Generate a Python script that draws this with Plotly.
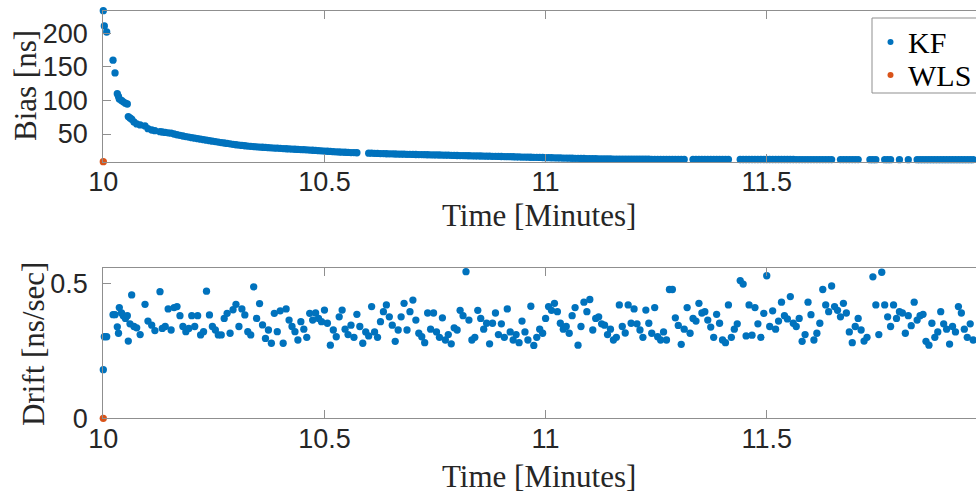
import numpy as np
import plotly.graph_objects as go

# ---------------- data ----------------
# early transient epochs (seconds after 10:00)
early_t_sec = [0.0, 0.14, 0.46, 1.32, 1.59, 1.9, 2.06, 2.17, 2.47, 2.71, 3.0, 3.26,
               3.39, 3.62, 3.85, 4.16, 4.53, 5.0, 5.66, 6.06, 6.57, 7.0, 7.69]
early_bias = [233.7, 211, 202, 160, 141, 110, 106, 102, 100, 98, 96, 94.7,
              76, 74, 72, 68, 65, 63.5, 62, 58, 56, 55, 53.5]
early_drift = [0.18, 0.302, 0.302, 0.384, 0.384, 0.339, 0.315, 0.41, 0.39, 0.38, 0.37, 0.38,
               0.286, 0.35, 0.457, 0.34, 0.335, 0.31, 0.422, 0.36, 0.345, 0.325, 0.469]

# steady part, sampled every 0.4 s from 8.0 s to 118.0 s
steady_t_sec = np.linspace(8.0, 118.0, 276)
steady_bias = [
    53.0, 52.4, 51.8, 51.2, 50.0, 48.9, 48.0, 47.0, 46.2, 45.5,
    44.6, 43.8, 43.0, 42.3, 41.5, 40.8, 40.0, 39.3, 38.7, 38.0,
    37.3, 36.6, 36.0, 35.3, 34.6, 34.0, 33.5, 33.0, 32.5, 32.0,
    31.6, 31.2, 30.9, 30.6, 30.3, 30.0, 29.7, 29.4, 29.1, 28.9,
    28.6, 28.3, 28.0, 27.8, 27.5, 27.3, 27.0, 26.8, 26.6, 26.4,
    26.1, 25.8, 25.5, 25.2, 24.9, 24.6, 24.3, 24.0, 23.7, 23.4,
    23.2, 23.0, 22.8, 22.6, 22.4, 22.3, 22.1, None, None, None,
    21.5, 21.4, 21.2, 21.1, 20.9, 20.8, 20.6, 20.5, 20.4, 20.2,
    20.1, 20.0, 19.9, 19.8, 19.7, 19.6, 19.5, 19.4, 19.3, 19.2,
    19.1, 19.0, 18.9, 18.8, 18.7, 18.6, 18.5, 18.4, 18.3, 18.1,
    18.0, 17.9, 17.8, 17.7, 17.6, 17.5, 17.4, 17.3, 17.2, 17.1,
    17.0, 16.9, 16.8, 16.7, 16.6, 16.5, 16.4, 16.3, 16.2, 16.1,
    15.9, 15.8, 15.7, 15.6, 15.5, 15.4, 15.3, 15.2, 15.1, 15.0,
    14.8, 14.7, 14.6, 14.5, 14.4, 14.3, 14.2, 14.1, 14.0, 13.9,
    13.8, 13.7, 13.6, 13.5, 13.4, 13.3, 13.2, 13.1, 13.0, 12.9,
    12.9, 12.8, 12.8, 12.7, 12.7, 12.6, 12.6, 12.6, 12.5, 12.5,
    12.5, 12.5, 12.4, 12.4, 12.4, 12.4, 12.3, 12.3, 12.3, 12.3,
    12.3, 12.3, 12.2, 12.2, 12.2, 12.2, 12.2, 12.2, None, None,
    12.2, 12.1, 12.1, 12.1, 12.1, 12.1, 12.1, 12.1, 12.1, 12.1,
    12.1, 12.1, 12.1, None, None, None, 12.0, 12.0, 12.0, 12.0,
    12.0, 12.0, 12.0, 12.0, 12.0, 12.0, 12.0, 12.0, 12.0, 12.0,
    12.0, 12.0, 12.0, 12.0, 12.0, 11.9, 11.9, 11.9, 11.9, 11.9,
    11.9, 11.9, 11.9, 11.9, 11.9, 11.9, 11.9, 11.9, None, None,
    11.9, 11.9, 11.9, 11.9, 11.9, 11.9, 11.9, None, None, None,
    11.8, 11.8, 11.8, None, None, 11.8, 11.8, 11.8, None, None,
    11.8, None, None, 11.8, None, None, 11.8, 11.8, 11.8, 11.8,
    11.8, 11.8, 11.8, 11.8, 11.8, 11.8, 11.8, 11.8, 11.8, 11.8,
    11.8, 11.8, 11.8, 11.8, 11.8, 11.8,
]
steady_drift = [
    0.333, 0.34, 0.405, 0.327, 0.41, 0.414, 0.38, 0.34, 0.321, 0.333,
    0.38, 0.34, 0.38, 0.309, 0.321, 0.471, 0.383, 0.34, 0.327, 0.309,
    0.309, 0.37, 0.389, 0.315, 0.402, 0.422, 0.34, 0.405, 0.383, 0.321,
    0.309, 0.487, 0.37, 0.425, 0.346, 0.296, 0.327, 0.278, 0.389, 0.321,
    0.398, 0.278, 0.405, 0.364, 0.34, 0.321, 0.29, 0.358, 0.33, 0.30,
    0.389, 0.364, 0.39, 0.37, 0.358, 0.401, 0.352, 0.271, 0.327, 0.302,
    0.376, 0.401, 0.33, 0.31, 0.345, 0.30, 0.385, 0.34, 0.278, 0.32,
    0.305, 0.414, 0.32, 0.30, 0.358, 0.395, 0.42, 0.376, 0.345, 0.285,
    0.327, 0.376, 0.426, 0.327, 0.395, 0.438, 0.364, 0.315, 0.302, 0.28,
    0.39, 0.33, 0.39, 0.32, 0.30, 0.372, 0.29, 0.31, 0.276, 0.335,
    0.327, 0.40, 0.38, 0.543, 0.364, 0.29, 0.30, 0.40, 0.37, 0.33,
    0.352, 0.276, 0.352, 0.39, 0.31, 0.35, 0.30, 0.405, 0.32, 0.29,
    0.31, 0.28, 0.36, 0.32, 0.29, 0.415, 0.27, 0.30, 0.33, 0.315,
    0.37, 0.414, 0.40, 0.426, 0.395, 0.352, 0.33, 0.34, 0.315, 0.38,
    0.41, 0.271, 0.34, 0.43, 0.395, 0.44, 0.327, 0.37, 0.376, 0.35,
    0.345, 0.31, 0.33, 0.29, 0.30, 0.42, 0.34, 0.316, 0.42, 0.352,
    0.405, 0.35, 0.327, 0.30, 0.401, 0.352, 0.315, 0.41, 0.302, 0.29,
    0.32, 0.29, 0.477, 0.477, 0.372, 0.344, 0.274, 0.33, 0.41, 0.315,
    0.37, 0.36, 0.426, 0.39, 0.395, 0.364, 0.338, 0.30, 0.385, 0.352,
    0.29, 0.28, 0.42, 0.30, 0.33, 0.35, 0.51, 0.497, 0.305, 0.42,
    0.308, 0.41, 0.35, 0.30, 0.389, 0.528, 0.34, 0.398, 0.33, 0.36,
    0.43, 0.38, 0.368, 0.451, 0.352, 0.34, 0.37, 0.285, 0.31, 0.43,
    0.384, 0.29, 0.315, 0.352, 0.477, 0.42, 0.395, 0.49, 0.414, 0.40,
    0.376, 0.426, 0.39, 0.32, 0.28, 0.34, 0.37, 0.327, 0.286, 0.30,
    0.558, 0.524, 0.42, 0.31, 0.541, 0.42, 0.376, 0.34, 0.42, 0.37,
    0.395, 0.39, 0.315, 0.38, 0.343, 0.43, 0.364, 0.38, 0.385, 0.285,
    0.271, 0.352, 0.30, 0.32, 0.395, 0.35, 0.33, 0.275, 0.34, 0.32,
    0.414, 0.39, 0.33, 0.30, 0.35, 0.29,
]

wls_t_min = [10.0]
wls_bias = [8.74]
wls_drift = [0.0]

x_ticks = [10, 10.5, 11, 11.5]
bias_ticks = [50, 100, 150, 200]
drift_ticks = [0, 0.5]
legend_names = ["KF", "WLS"]

# ---------------- assemble ----------------
t_min = [10 + s / 60.0 for s in early_t_sec] + [10 + s / 60.0 for s in steady_t_sec]
bias_kf = early_bias + steady_bias
drift_kf = early_drift + steady_drift

KF_COLOR = "#0072BD"
WLS_COLOR = "#D95319"
AX_COLOR = "#8f8f8f"
TXT = "#262626"
SANS = "Liberation Sans, Arial, sans-serif"
SERIF = "Liberation Serif, Times New Roman, serif"
MS = 7.3

fig = go.Figure()
fig.add_trace(go.Scatter(x=t_min, y=bias_kf, mode="markers", name=legend_names[0],
                         marker=dict(color=KF_COLOR, size=MS), cliponaxis=False,
                         xaxis="x", yaxis="y", showlegend=False))
fig.add_trace(go.Scatter(x=t_min, y=drift_kf, mode="markers", name=legend_names[0],
                         marker=dict(color=KF_COLOR, size=MS), cliponaxis=False,
                         xaxis="x2", yaxis="y2", showlegend=False))
fig.add_trace(go.Scatter(x=wls_t_min, y=wls_bias, mode="markers", name=legend_names[1],
                         marker=dict(color=WLS_COLOR, size=MS), cliponaxis=False,
                         xaxis="x", yaxis="y", showlegend=False))
fig.add_trace(go.Scatter(x=wls_t_min, y=wls_drift, mode="markers", name=legend_names[1],
                         marker=dict(color=WLS_COLOR, size=MS), cliponaxis=False,
                         xaxis="x2", yaxis="y2", showlegend=False))

W, H = 976, 497
x_left = 103.3 / W
x_right_val = 10 + (W - 103.3) / 442.3

common_x = dict(range=[10, x_right_val], tickvals=x_ticks, ticks="inside", ticklen=8,
                tickcolor=AX_COLOR, showline=True, linecolor=AX_COLOR, linewidth=1,
                mirror="ticks", showgrid=False, zeroline=False,
                tickfont=dict(family=SANS, size=27, color=TXT), ticklabelstandoff=-4,
                domain=[x_left, 1.0], automargin=False)
common_y = dict(ticks="inside", ticklen=8, tickcolor=AX_COLOR, showline=True,
                linecolor=AX_COLOR, linewidth=1, mirror=False, showgrid=False,
                zeroline=False, tickfont=dict(family=SANS, size=27, color=TXT),
                ticklabelstandoff=9, automargin=False)

fig.update_layout(
    width=W, height=H,
    margin=dict(l=0, r=0, t=0, b=0),
    paper_bgcolor="white", plot_bgcolor="white",
    xaxis=dict(anchor="y", **common_x),
    yaxis=dict(anchor="x", domain=[1 - 161.7 / H, 1 - 10.7 / H], range=[8.74, 233.7],
               tickvals=bias_ticks, **common_y),
    xaxis2=dict(anchor="y2", **common_x),
    yaxis2=dict(anchor="x2", domain=[1 - 418.3 / H, 1 - 268.3 / H], range=[0, 0.5556],
                tickvals=drift_ticks, ticktext=["0", "0.5"], **common_y),
    showlegend=False,
)

# ---- legend box (drawn in paper coordinates) ----
def px(x):
    return x / W

def py(y):
    return 1 - y / H

fig.add_shape(type="rect", xref="paper", yref="paper",
              x0=px(872), x1=px(990), y0=py(93), y1=py(18),
              line=dict(color=AX_COLOR, width=1), fillcolor="white", layer="above")
for name, col, yy in [(legend_names[0], KF_COLOR, 42), (legend_names[1], WLS_COLOR, 75)]:
    fig.add_shape(type="circle", xref="paper", yref="paper",
                  x0=px(887.5), x1=px(893.5), y0=py(yy + 3), y1=py(yy - 3),
                  line=dict(width=0), fillcolor=col, layer="above")
    fig.add_annotation(text=name, x=px(906), y=py(yy), xref="paper", yref="paper",
                       showarrow=False, xanchor="left", yanchor="middle",
                       font=dict(family=SERIF, size=30, color="black"))

title_font = dict(family=SERIF, size=31, color=TXT)
x_mid = (103.3 + 975) / 2 / W
fig.add_annotation(text="Bias [ns]", x=px(25), y=py(86), xref="paper", yref="paper",
                   textangle=-90, showarrow=False, font=title_font,
                   xanchor="center", yanchor="middle")
fig.add_annotation(text="Drift [ns/sec]", x=px(33), y=py(344), xref="paper", yref="paper",
                   textangle=-90, showarrow=False, font=title_font,
                   xanchor="center", yanchor="middle")
fig.add_annotation(text="Time [Minutes]", x=x_mid, y=py(215), xref="paper", yref="paper",
                   showarrow=False, font=title_font, xanchor="center", yanchor="middle")
fig.add_annotation(text="Time [Minutes]", x=x_mid, y=py(476), xref="paper", yref="paper",
                   showarrow=False, font=title_font, xanchor="center", yanchor="middle")

fig.write_html("out.html")
